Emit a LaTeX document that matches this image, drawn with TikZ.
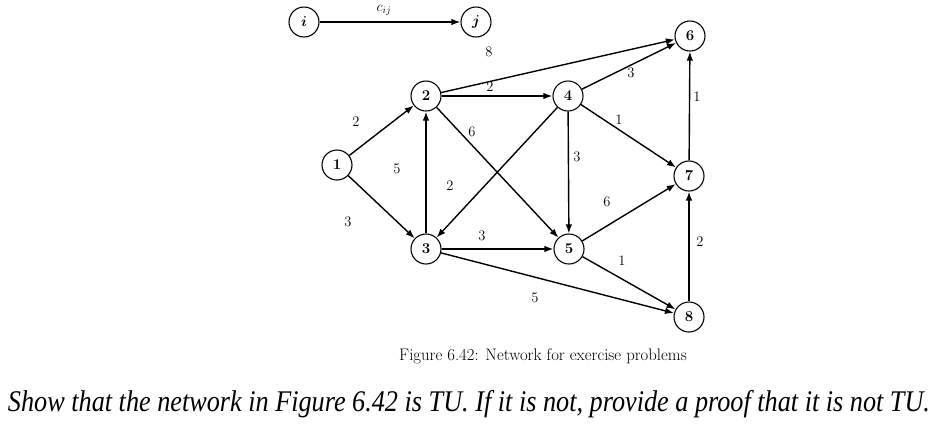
\documentclass[tikz,border=0pt]{standalone}
\usepackage{fontspec}
\usepackage{amsmath,amssymb}
\usepackage{tikz}
\usetikzlibrary{arrows.meta,positioning}
\newfontfamily\questfont{Liberation Serif}
\tikzset{
  >={Latex[length=9pt,width=6.5pt]},
  vert/.style = {circle, draw, line width=1.1pt, minimum size=30pt, inner sep=0pt, font=\fontsize{15}{17}\selectfont\bfseries},
  arc/.style  = {->, line width=1.4pt},
  wt/.style   = {inner sep=1pt, font=\fontsize{14.5}{17}\selectfont}
}

\begin{document}
\begin{tikzpicture}[x=1pt,y=-1pt]
\useasboundingbox (0,0) rectangle (938,424);
% legend
\node[vert] (ni) at (304,22) {$\boldsymbol{i}$};
\node[vert] (nj) at (476,22) {$\boldsymbol{j}$};
\draw[arc] (ni) -- (nj);
\node[wt, inner sep=0pt] (cij) at (384,10) {$c_{ij}$};

% vertices
\node[vert] (v1) at (337,165) {1};
\node[vert] (v2) at (426,96) {2};
\node[vert] (v3) at (426,249) {3};
\node[vert] (v4) at (568,96) {4};
\node[vert] (v5) at (569,249) {5};
\node[vert] (v6) at (690,36) {6};
\node[vert] (v7) at (689,176) {7};
\node[vert] (v8) at (689,317) {8};

% arcs
\draw[arc] (v1) -- (v2);
\draw[arc] (v1) -- (v3);
\draw[arc] (v3) -- (v2);
\draw[arc] (v2) -- (v4);
\draw[arc] (v2) -- (v6);
\draw[arc] (v2) -- (v5);
\draw[arc] (v4) -- (v3);
\draw[arc] (v3) -- (v5);
\draw[arc] (v3) -- (v8);
\draw[arc] (v4) -- (v6);
\draw[arc] (v4) -- (v7);
\draw[arc] (v4) -- (v5);
\draw[arc] (v7) -- (v6);
\draw[arc] (v5) -- (v7);
\draw[arc] (v5) -- (v8);
\draw[arc] (v8) -- (v7);

% weights
\node[wt] (w12) at (356,122) {2};
\node[wt] (w13) at (348,222) {3};
\node[wt] (w32) at (397,169) {5};
\node[wt] (w24) at (490,87) {2};
\node[wt] (w26) at (489,52) {8};
\node[wt] (w25) at (472,132) {6};
\node[wt] (w43) at (450,186) {2};
\node[wt] (w35) at (482,236) {3};
\node[wt] (w38) at (535,298) {5};
\node[wt] (w46) at (631,73) {3};
\node[wt] (w47) at (619,120) {1};
\node[wt] (w45) at (577,157) {3};
\node[wt] (w76) at (697,97) {1};
\node[wt] (w57) at (607,202) {6};
\node[wt] (w58) at (622,261) {1};
\node[wt] (w87) at (700,242) {2};

% caption and question
\node[font=\fontsize{16.7}{19}\selectfont] (cap) at (543,356) {Figure 6.42: Network for exercise problems};
\node[font=\fontsize{30}{34}\selectfont\questfont\itshape, inner sep=0pt] (quest) at (469,404) {\resizebox{922pt}{\height}{Show that the network in Figure 6.42 is TU. If it is not, provide a proof that it is not TU.}};
\end{tikzpicture}
\end{document}
